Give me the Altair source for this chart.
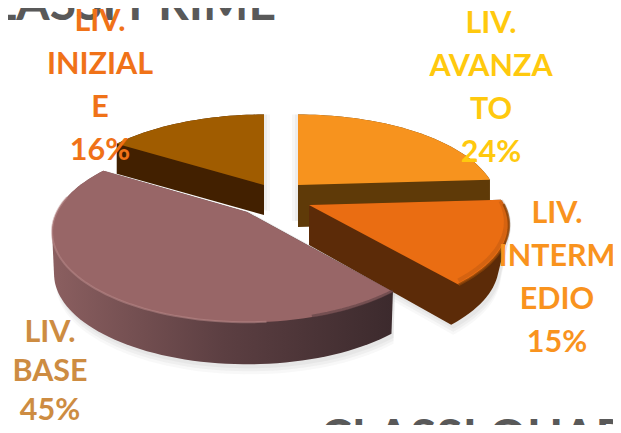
import math
import altair as alt
import pandas as pd

# Data
categories = ["LIV. AVANZATO", "LIV. INTERMEDIO", "LIV. BASE", "LIV. INIZIALE"]
shares = [24, 15, 45, 16]

label_lines = [
    ["LIV.", "AVANZA", "TO", "24%"],
    ["LIV.", "INTERM", "EDIO", "15%"],
    ["LIV.", "BASE", "45%"],
    ["LIV.", "INIZIAL", "E", "16%"],
]
label_colors = ["#FFC90E", "#F9931E", "#CD8C42", "#F07218"]
label_x = [491, 557, 50, 100]
label_first_y = [24, 214, 333, 22]
line_steps = [43, 43, 39, 43]

# Projection of the pie (image pixels)
A, B, K = 195.0, 86.0, 0.22
apexes = {"LIV. AVANZATO": (298, 185), "LIV. INTERMEDIO": (309, 205),
          "LIV. BASE": (247, 212), "LIV. INIZIALE": (264, 185)}
depths = {"LIV. AVANZATO": 42, "LIV. INTERMEDIO": 40, "LIV. BASE": 42, "LIV. INIZIALE": 30}
x_scale = {"LIV. AVANZATO": 1.0, "LIV. INTERMEDIO": 1.0, "LIV. BASE": 0.975, "LIV. INIZIALE": 1.0}
taper = {"LIV. AVANZATO": 1.0, "LIV. INTERMEDIO": 0.95, "LIV. BASE": 0.99, "LIV. INIZIALE": 1.0}

W, H = 605, 417
XS = alt.Scale(domain=[8, 613], range=[0, W], nice=False, zero=False)
YS = alt.Scale(domain=[8, 425], range=[0, H], nice=False, zero=False)


def pt(t_deg, apex, xs=1.0):
    t = math.radians(t_deg)
    u, v = math.sin(t), -math.cos(t)
    s = 1 / (1 - K * v)
    return (apex[0] + A * xs * u * s, apex[1] + B * v * s)


def hull(points):
    p = sorted(set(points))
    def cross(o, a, b):
        return (a[0]-o[0])*(b[1]-o[1]) - (a[1]-o[1])*(b[0]-o[0])
    lo, up = [], []
    for q in p:
        while len(lo) > 1 and cross(lo[-2], lo[-1], q) <= 0:
            lo.pop()
        lo.append(q)
    for q in reversed(p):
        while len(up) > 1 and cross(up[-2], up[-1], q) <= 0:
            up.pop()
        up.append(q)
    return lo[:-1] + up[:-1]


def poly(points, fill, opacity=1.0):
    closed = list(points) + [points[0]]
    df = pd.DataFrame({"x": [p[0] for p in closed], "y": [p[1] for p in closed],
                       "i": range(len(closed))})
    return alt.Chart(df).mark_line(fill=fill, strokeWidth=0, fillOpacity=opacity, stroke=None).encode(
        x=alt.X("x:Q", scale=XS, axis=None),
        y=alt.Y("y:Q", scale=YS, axis=None),
        order=alt.Order("i:Q"),
    )


def stroke_line(points, color, width, opacity=1.0):
    df = pd.DataFrame({"x": [p[0] for p in points], "y": [p[1] for p in points],
                       "i": range(len(points))})
    return alt.Chart(df).mark_line(color=color, strokeWidth=width, opacity=opacity).encode(
        x=alt.X("x:Q", scale=XS, axis=None),
        y=alt.Y("y:Q", scale=YS, axis=None),
        order=alt.Order("i:Q"),
    )


def hgrad(c1, c2, c3=None):
    stops = [alt.GradientStop(offset=0, color=c1)]
    if c3:
        stops += [alt.GradientStop(offset=0.5, color=c2), alt.GradientStop(offset=1, color=c3)]
    else:
        stops += [alt.GradientStop(offset=1, color=c2)]
    return alt.Gradient(gradient="linear", stops=stops, x1=0, x2=1, y1=0, y2=0)


# Slice angles
angles = {}
start = 0.0
for c, s in zip(categories, shares):
    angles[c] = (start, start + s * 3.6)
    start += s * 3.6


def arc_pts(c, a0=None, a1=None, dy=0, dx=0):
    s, e = angles[c]
    s = s if a0 is None else a0
    e = e if a1 is None else a1
    n = max(4, int((e - s) / 2))
    out = []
    for k in range(n + 1):
        p = pt(s + (e - s) * k / n, apexes[c], x_scale[c])
        out.append((p[0] + dx, p[1] + dy))
    return out


def top(c):
    return [apexes[c]] + arc_pts(c)


def body(c, dy=None, dx=0):
    d = depths[c] if dy is None else dy
    pts = top(c)
    ax = apexes[c][0]
    lower = [(ax + (x - ax) * taper[c] + dx, y + d) for x, y in pts]
    return hull([(x + dx, y) for x, y in pts] + lower)


tops = {"LIV. AVANZATO": "#F7931E", "LIV. INTERMEDIO": "#EA6D12",
        "LIV. BASE": "#986667", "LIV. INIZIALE": "#A05C00"}
sides = {"LIV. AVANZATO": "#5F3A08", "LIV. INTERMEDIO": "#5C2B08",
         "LIV. BASE": hgrad("#8B5F60", "#5C3F42", "#3C2A2D"), "LIV. INIZIALE": "#422000"}

layers = []

# Soft shadows
for c in ["LIV. BASE", "LIV. INTERMEDIO"]:
    for off, op in [(10, 0.12), (7, 0.18), (4, 0.22)]:
        layers.append(poly(body(c, depths[c] + off, 2), "#C8C8C8", op))
for off, op in [(6, 0.15), (3, 0.2)]:
    layers.append(poly(body("LIV. AVANZATO", depths["LIV. AVANZATO"] - 6, -off), "#C8C8C8", op))
    layers.append(poly(body("LIV. INIZIALE", depths["LIV. INIZIALE"] - 4, off), "#C8C8C8", op))

for c in ["LIV. INIZIALE", "LIV. AVANZATO", "LIV. INTERMEDIO", "LIV. BASE"]:
    layers.append(poly(body(c), sides[c]))
    layers.append(poly(top(c), tops[c]))

    if c == "LIV. BASE":
        a0, a1 = angles[c]
        layers.append(stroke_line(arc_pts(c, a0 + 35, a1 - 22), "#B98A8B", 2, 0.55))
        layers.append(stroke_line(arc_pts(c, a0, a0 + 24, dy=-1), "#5C3F42", 3, 0.6))
    if c == "LIV. INTERMEDIO":
        a0, a1 = angles[c]
        layers.append(stroke_line(arc_pts(c, a0 + 3, a1 - 1, dy=-3, dx=-3), "#C05A10", 4, 0.5))
        layers.append(stroke_line(arc_pts(c, a0 + 3, a1), "#8A4208", 2.5, 0.8))

# Titles behind the labels
titles = pd.DataFrame({"t": ["CLASSI PRIME", "CLASSI QUARTE"], "x": [276, 320], "y": [20, 454]})
title_layer = alt.Chart(titles).mark_text(
    font="Lato", fontWeight="bold", fontSize=48, color="#595959",
    align=alt.expr("datum.x > 300 ? 'left' : 'right'"), baseline="alphabetic",
).encode(
    x=alt.X("x:Q", scale=XS, axis=None),
    y=alt.Y("y:Q", scale=YS, axis=None),
    text="t:N",
)

rows = []
for lines, col, x, y0, step in zip(label_lines, label_colors, label_x, label_first_y, line_steps):
    for j, line in enumerate(lines):
        rows.append({"t": line, "x": x, "y": y0 + j * step, "c": col})
labels = alt.Chart(pd.DataFrame(rows)).mark_text(
    font="Lato", fontWeight="bold", fontSize=30.5, align="center", baseline="middle",
).encode(
    x=alt.X("x:Q", scale=XS, axis=None),
    y=alt.Y("y:Q", scale=YS, axis=None),
    text="t:N",
    color=alt.Color("c:N", scale=None, legend=None),
)

chart = alt.layer(title_layer, *layers, labels).properties(
    width=W, height=H, padding=0, autosize=alt.AutoSizeParams(type="none"),
    background="white",
).configure_view(stroke=None)

chart.save("out.html", embed_options={"renderer": "svg", "actions": False})
